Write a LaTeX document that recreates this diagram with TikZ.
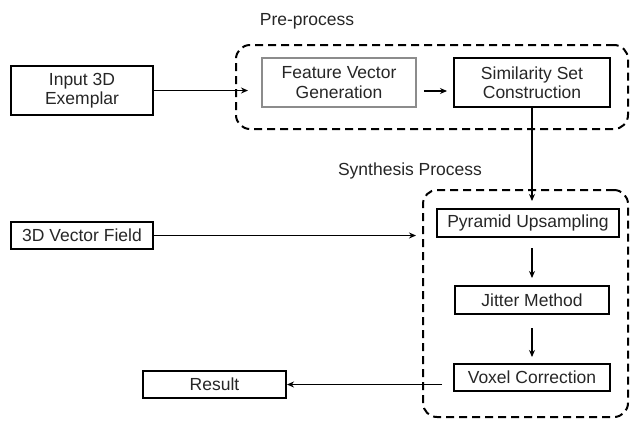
\documentclass[tikz,border=0pt]{standalone}
\usepackage{fontspec}
\setmainfont{Liberation Sans}
\usetikzlibrary{arrows.meta}
\tikzset{
  blk/.style={draw=black, line width=2pt, inner sep=0pt, align=center, font=\fontsize{17.5}{19.5}\selectfont, text=black!85},
  grayblk/.style={blk, draw=black!45, line width=1.5pt},
  grp/.style={draw=black, line width=2pt, dash pattern=on 8pt off 5pt, rounded corners=14pt, inner sep=0pt},
  lbl/.style={font=\fontsize{17.5}{19.5}\selectfont, text=black!85, inner sep=0pt},
  conn/.style={line width=1.6pt, -{Stealth[length=7pt,width=6pt]}}
}
\begin{document}
\begin{tikzpicture}[x=1pt,y=-1pt]
\useasboundingbox (0,0) rectangle (630,421);
% groups
\node[grp, minimum width=392pt, minimum height=84pt] (pre) at (432,87) {};
\node[grp, minimum width=205pt, minimum height=227pt] (syn) at (525.5,303.5) {};
\node[lbl] (prel) at (307,21) {Pre-process};
\node[lbl] (synl) at (410,171) {Synthesis Process};
% boxes
\node[blk, minimum width=142pt, minimum height=49pt] (inp) at (82,90.5) {Input 3D\\Exemplar};
\node[grayblk, minimum width=154pt, minimum height=49pt] (feat) at (339,82.5) {Feature Vector\\Generation};
\node[blk, minimum width=156pt, minimum height=49pt] (sim) at (532,82.5) {Similarity Set\\Construction};
\node[blk, minimum width=142pt, minimum height=27pt] (vf) at (82,235.5) {3D Vector Field};
\node[blk, minimum width=182pt, minimum height=28pt] (pyr) at (528,223) {Pyramid Upsampling};
\node[blk, minimum width=154pt, minimum height=28pt] (jit) at (532,300) {Jitter Method};
\node[blk, minimum width=156pt, minimum height=27pt] (vox) at (532,377.5) {Voxel Correction};
\node[blk, minimum width=143pt, minimum height=27pt] (res) at (214.5,384.5) {Result};
% free ends
\coordinate (a1) at (248,91);
\coordinate (a2) at (416,235);
\coordinate (vw) at ([yshift=-7pt]vox.west);
\coordinate (fe) at ([yshift=-8.5pt]feat.east);
\coordinate (sw) at ([yshift=-8.5pt]sim.west);
% connectors
\draw[conn] (inp.east) -- (inp.east -| a1);
\draw[conn, shorten <=7pt, shorten >=6pt] (fe) -- (sw);
\draw[conn, shorten >=7pt] (sim.south) -- (sim.south |- pyr.north);
\draw[conn] (vf.east) -- (vf.east -| a2);
\draw[conn, shorten <=10pt, shorten >=7pt] (pyr.south -| jit.north) -- (jit.north);
\draw[conn, shorten <=13pt, shorten >=6pt] (jit.south) -- (vox.north);
\draw[conn, shorten <=11pt] (vw) -- (vw -| res.east);
\end{tikzpicture}
\end{document}
